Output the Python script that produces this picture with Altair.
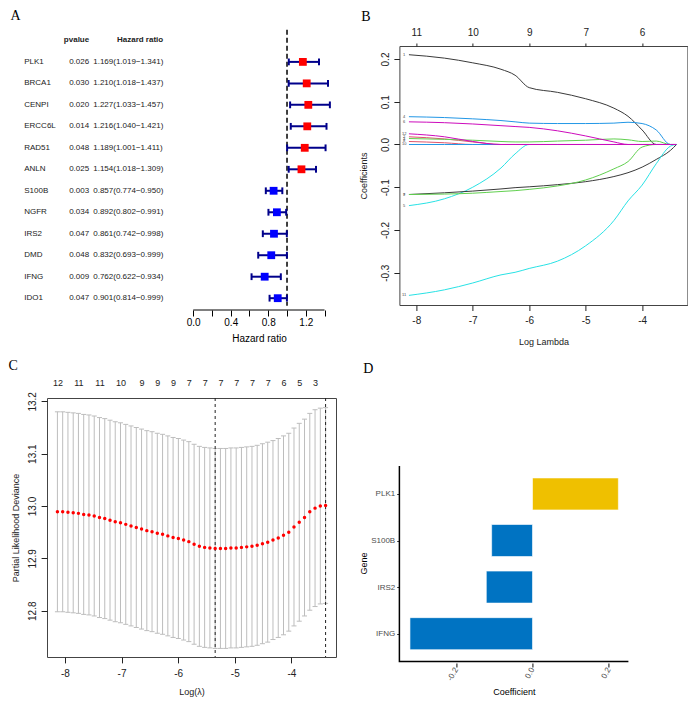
import altair as alt
import pandas as pd

SANS = "Liberation Sans"
SERIF = "Liberation Serif"
INK = "#222222"

# ---------------- Panel A: univariate Cox forest plot ----------------
a_genes = ["PLK1", "BRCA1", "CENPI", "ERCC6L", "RAD51", "ANLN",
           "S100B", "NGFR", "IRS2", "DMD", "IFNG", "IDO1"]
a_pvalues = ["0.026", "0.030", "0.020", "0.014", "0.048", "0.025",
             "0.003", "0.034", "0.047", "0.048", "0.009", "0.047"]
a_hr = [1.169, 1.210, 1.227, 1.216, 1.189, 1.154, 0.857, 0.892, 0.861, 0.832, 0.762, 0.901]
a_low = [1.019, 1.018, 1.033, 1.040, 1.001, 1.018, 0.774, 0.802, 0.742, 0.693, 0.622, 0.814]
a_high = [1.341, 1.437, 1.457, 1.421, 1.411, 1.309, 0.950, 0.991, 0.998, 0.999, 0.934, 0.999]
a_ticks = [0.0, 0.2, 0.4, 0.6, 0.8, 1.0, 1.2, 1.4]
a_tick_labels = ["0.0", "0.4", "0.8", "1.2"]

# ---------------- Panel B: LASSO coefficient paths ----------------
b_loglam = [-8.13, -7.5, -7.0, -6.5, -6.25, -6.0, -5.5, -5.0, -4.5, -4.25, -4.0, -3.75, -3.5, -3.39]
b_coef_1 = [0.210, 0.202, 0.191, 0.176, 0.162, 0.133, 0.122, 0.107, 0.085, 0.066, 0.034, 0.0, 0.0, 0.0]
b_coef_2 = [0.018, 0.013, 0.006, 0.0, 0.0, 0.0, 0.0, 0.0, 0.0, 0.0, 0.0, 0.0, 0.0, 0.0]
b_coef_3 = [0.014, 0.012, 0.010, 0.007, 0.006, 0.006, 0.008, 0.010, 0.013, 0.011, 0.007, 0.008, 0.0, 0.0]
b_coef_4 = [0.065, 0.063, 0.060, 0.056, 0.053, 0.050, 0.049, 0.049, 0.050, 0.052, 0.049, 0.034, 0.0, 0.0]
b_coef_5 = [-0.143, -0.127, -0.100, -0.055, -0.022, 0.0, 0.0, 0.0, 0.0, 0.0, 0.0, 0.0, 0.0, 0.0]
b_coef_6 = [0.053, 0.051, 0.048, 0.044, 0.042, 0.040, 0.032, 0.020, 0.006, 0.0, 0.0, 0.0, 0.0, 0.0]
b_coef_7 = [-0.117, -0.113, -0.109, -0.104, -0.101, -0.099, -0.094, -0.087, -0.075, -0.066, -0.053, -0.035, -0.014, 0.0]
b_coef_8 = [0.007, 0.004, 0.0, 0.0, 0.0, 0.0, 0.0, 0.0, 0.0, 0.0, 0.0, 0.0, 0.0, 0.0]
b_coef_9 = [-0.117, -0.116, -0.114, -0.110, -0.108, -0.105, -0.097, -0.083, -0.057, -0.040, -0.006, 0.0, 0.0, 0.0]
b_coef_10 = [0.0, 0.0, 0.0, 0.0, 0.0, 0.0, 0.0, 0.0, 0.0, 0.0, 0.0, 0.0, 0.0, 0.0]
b_coef_11 = [-0.353, -0.340, -0.324, -0.305, -0.299, -0.290, -0.273, -0.237, -0.178, -0.132, -0.095, -0.045, -0.004, 0.0]
b_coef_12 = [0.025, 0.018, 0.007, 0.0, 0.0, 0.0, 0.0, 0.0, 0.0, 0.0, 0.0, 0.0, 0.0, 0.0]
b_vars = ["1", "2", "3", "4", "5", "6", "7", "8", "9", "10", "11", "12"]
b_colors = ["#3A3A3A", "#DF536B", "#61D04F", "#2297E6", "#28E2E5", "#CD0BBC",
            "#3A3A3A", "#DF536B", "#61D04F", "#2297E6", "#28E2E5", "#CD0BBC"]
b_top_at = [-8, -7, -6, -5, -4]
b_top_df = ["11", "10", "9", "7", "6"]
b_x_ticks = [-8, -7, -6, -5, -4]
b_y_ticks = [-0.3, -0.2, -0.1, 0.0, 0.1, 0.2]

# ---------------- Panel C: cross-validation curve ----------------
c_loglam = [-8.132, -8.039, -7.946, -7.853, -7.761, -7.668, -7.575, -7.482, -7.389, -7.296,
            -7.203, -7.111, -7.018, -6.925, -6.832, -6.739, -6.646, -6.553, -6.461, -6.368,
            -6.275, -6.182, -6.089, -5.996, -5.903, -5.811, -5.718, -5.625, -5.532, -5.439,
            -5.346, -5.253, -5.161, -5.068, -4.975, -4.882, -4.789, -4.696, -4.604, -4.511,
            -4.418, -4.325, -4.232, -4.139, -4.046, -3.954, -3.861, -3.768, -3.675, -3.582,
            -3.489, -3.396]
c_cvm = [12.989, 12.989, 12.988, 12.987, 12.986, 12.984, 12.983, 12.981, 12.978, 12.976,
         12.973, 12.970, 12.968, 12.965, 12.962, 12.959, 12.956, 12.953, 12.951, 12.948,
         12.946, 12.943, 12.940, 12.938, 12.935, 12.932, 12.927, 12.923, 12.921, 12.920,
         12.919, 12.919, 12.919, 12.920, 12.920, 12.921, 12.922, 12.923, 12.925, 12.928,
         12.931, 12.935, 12.939, 12.944, 12.950, 12.960, 12.969, 12.978, 12.989, 12.996,
         13.000, 13.001]
c_cvsd = [0.191, 0.191, 0.191, 0.191, 0.191, 0.191, 0.191, 0.191, 0.191, 0.191,
          0.191, 0.191, 0.191, 0.191, 0.191, 0.191, 0.191, 0.191, 0.191, 0.191,
          0.191, 0.191, 0.191, 0.191, 0.191, 0.191, 0.191, 0.191, 0.191, 0.191,
          0.191, 0.191, 0.191, 0.191, 0.191, 0.191, 0.191, 0.191, 0.191, 0.191,
          0.191, 0.190, 0.190, 0.190, 0.189, 0.189, 0.189, 0.188, 0.188, 0.188,
          0.187, 0.187]
c_top_at = [-8.132, -7.761, -7.389, -7.018, -6.646, -6.368, -6.089, -5.811,
            -5.532, -5.253, -4.975, -4.696, -4.418, -4.139, -3.861, -3.582]
c_top_nz = ["12", "11", "11", "10", "9", "9", "9", "7", "7", "7", "7", "7", "7", "6", "5", "3"]
c_lambda_min = -5.346
c_lambda_1se = -3.396
c_x_ticks = [-8, -7, -6, -5, -4]
c_y_ticks = [12.8, 12.9, 13.0, 13.1, 13.2]

# ---------------- Panel D: final model coefficients ----------------
d_genes = ["PLK1", "S100B", "IRS2", "IFNG"]          # top to bottom
d_coef = [0.225, -0.107, -0.121, -0.321]
d_ticks = [-0.2, 0.0, 0.2]

MINUS_FIX = "replace(format(datum.value, '.1f'), '\u2212', '-')"


def letter(t, dx, dy):
    return alt.TitleParams(text=t, anchor="start", frame="group", font=SERIF, fontSize=14,
                           fontWeight="normal", color="black", baseline="alphabetic",
                           offset=0, dx=dx, dy=dy)


# ======================= A =======================
a_df = pd.DataFrame({"row": list(range(1, len(a_genes) + 1)), "gene": a_genes, "p": a_pvalues,
                     "hr": a_hr, "low": a_low, "high": a_high})
a_df["ci"] = [f"{h:.3f}({l:.3f}\u2212{u:.3f})" for h, l, u in zip(a_hr, a_low, a_high)]
a_df["dir"] = ["up" if h > 1 else "down" for h in a_hr]
a_head = pd.DataFrame({"row": [0], "p": ["pvalue"], "ci": ["Hazard ratio"]})

a_xs = alt.Scale(domain=[-1.559, 1.405], nice=False, zero=False)
a_ys = alt.Scale(domain=[0.26, 12.55], nice=False, zero=False, reverse=True)
a_y = alt.Y("row:Q", scale=a_ys, axis=None)
NAVY = "#00008B"

a_axis = alt.Axis(
    values=a_ticks,
    labelExpr=f"indexof({a_tick_labels}, format(datum.value, '.1f')) >= 0 ? format(datum.value, '.1f') : ''",
    domain=False, grid=False, tickSize=6, tickColor="black", tickWidth=1,
    labelFontSize=10, labelFont=SANS, labelColor="black", labelPadding=1,
    labelFlush=False, labelOverlap=False,
    title="Hazard ratio", titleFontSize=10, titleFont=SANS, titleFontWeight="normal",
    titleColor="black", titleX=212, titleY=28, titleAlign="center", titleBaseline="middle")

a_base = alt.Chart(a_df)
a_dash = alt.Chart(pd.DataFrame({"ref": [1.0]})).mark_rule(
    strokeDash=[5, 3], strokeWidth=1.5, color="black").encode(
    x=alt.X("ref:Q", axis=None), y=alt.YDatum(-0.5, axis=None), y2=alt.Y2Datum(12.35))
a_line = alt.Chart(pd.DataFrame({"t0": [a_ticks[0]], "t1": [a_ticks[-1]]})).mark_rule(
    color="black", strokeWidth=1).encode(
    x=alt.X("t0:Q", axis=None), x2="t1:Q", y=alt.YDatum(12.55, axis=None))
a_wh = a_base.mark_rule(color=NAVY, strokeWidth=2).encode(
    x=alt.X("low:Q", axis=None), x2="high:Q", y=a_y)
a_cap_lo = a_base.mark_point(shape="M0,-1L0,1", size=46, strokeWidth=2, color=NAVY,
                             filled=False, opacity=1).encode(x=alt.X("low:Q", axis=None), y=a_y)
a_cap_hi = a_base.mark_point(shape="M0,-1L0,1", size=46, strokeWidth=2, color=NAVY,
                             filled=False, opacity=1).encode(x=alt.X("high:Q", axis=None), y=a_y)
a_sq = a_base.mark_square(size=61, opacity=1).encode(
    x=alt.X("hr:Q", scale=a_xs, axis=a_axis), y=a_y,
    color=alt.Color("dir:N", scale=alt.Scale(domain=["up", "down"], range=["#FF0000", "#0000FF"]),
                    legend=None))
a_t_gene = a_base.mark_text(align="left", baseline="middle", fontSize=8, color=INK).encode(
    x=alt.XDatum(-1.802, axis=None), y=a_y, text="gene:N")
a_t_p = a_base.mark_text(align="right", baseline="middle", fontSize=8, color=INK).encode(
    x=alt.XDatum(-1.109, axis=None), y=a_y, text="p:N")
a_t_ci = a_base.mark_text(align="left", baseline="middle", fontSize=8, color=INK).encode(
    x=alt.XDatum(-1.066, axis=None), y=a_y, text="ci:N")
a_h_p = alt.Chart(a_head).mark_text(align="right", baseline="middle", fontSize=8,
                                    fontWeight="bold", color=INK).encode(
    x=alt.XDatum(-1.109, axis=None), y=a_y, text="p:N")
a_h_ci = alt.Chart(a_head).mark_text(align="left", baseline="middle", fontSize=8,
                                     fontWeight="bold", color=INK).encode(
    x=alt.XDatum(-0.813, axis=None), y=a_y, text="ci:N")

panel_a = alt.layer(a_dash, a_line, a_wh, a_cap_lo, a_cap_hi, a_sq,
                    a_t_gene, a_t_p, a_t_ci, a_h_p, a_h_ci).resolve_axis(
    x="independent", y="independent").properties(
    width=278, height=264, title=letter("A", -36.4, 5.1))

# ======================= B =======================
b_all = [b_coef_1, b_coef_2, b_coef_3, b_coef_4, b_coef_5, b_coef_6,
         b_coef_7, b_coef_8, b_coef_9, b_coef_10, b_coef_11, b_coef_12]
b_rows = []
for v, vals in zip(b_vars, b_all):
    for x, y in zip(b_loglam, vals):
        b_rows.append({"var": v, "loglam": x, "coef": y})
b_df = pd.DataFrame(b_rows)
b_lab = pd.DataFrame({"var": b_vars, "coef": [vals[0] for vals in b_all]})

b_xs = alt.Scale(domain=[-8.299, -3.198], nice=False, zero=False)
b_ys = alt.Scale(domain=[-0.3755, 0.2304], nice=False, zero=False)

b_xaxis = alt.Axis(values=b_x_ticks, labelExpr="replace(format(datum.value, 'd'), '\u2212', '-')",
                   domain=False, grid=False, tickSize=5.5, tickColor=INK, labelFontSize=10,
                   labelColor=INK, labelPadding=5.4, labelFlush=False,
                   title="Log Lambda", titleFontSize=9, titleFontWeight="normal", titleColor=INK,
                   titleX=144, titleY=36, titleBaseline="middle", titleAlign="center")
b_yaxis = alt.Axis(values=b_y_ticks, labelExpr=MINUS_FIX, labelAngle=-90, labelAlign="center",
                   labelBaseline="bottom", domain=False, grid=False, tickSize=5.5, tickColor=INK,
                   labelFontSize=10, labelColor=INK, labelPadding=3.5, labelFlush=False,
                   title="Coefficients", titleFontSize=9, titleFontWeight="normal", titleColor=INK,
                   titleX=-36, titleY=129.5, titleBaseline="middle", titleAlign="center")
b_topaxis = alt.Axis(orient="top", values=b_top_at,
                     labelExpr=f"{b_top_df}[indexof({b_top_at}, datum.value)]",
                     domain=False, grid=False, tickSize=3, tickColor=INK, labelFontSize=10,
                     labelColor=INK, labelPadding=6, labelFlush=False, labelOverlap=False, title=None)

b_lines = alt.Chart(b_df).mark_line(strokeWidth=1, interpolate="monotone").encode(
    x=alt.X("loglam:Q", scale=b_xs, axis=b_xaxis),
    y=alt.Y("coef:Q", scale=b_ys, axis=b_yaxis),
    color=alt.Color("var:N", scale=alt.Scale(domain=b_vars, range=b_colors), legend=None))
b_labels = alt.Chart(b_lab).mark_text(fontSize=4, color="#444444", baseline="middle").encode(
    x=alt.XDatum(-8.215, axis=None), y=alt.Y("coef:Q", axis=None), text="var:N")
b_top = alt.Chart(pd.DataFrame({"at": b_top_at})).mark_point(opacity=0).encode(
    x=alt.X("at:Q", axis=b_topaxis))

panel_b = alt.layer(b_lines, b_labels, b_top).resolve_axis(
    x="independent", y="independent").properties(
    width=288, height=259, view=alt.ViewBackground(stroke="#444444", strokeWidth=1),
    title=letter("B", -38.1, 7.6))

# ======================= C =======================
c_df = pd.DataFrame({"loglam": c_loglam, "cvm": c_cvm, "cvsd": c_cvsd})
c_df["lo"] = c_df["cvm"] - c_df["cvsd"]
c_df["hi"] = c_df["cvm"] + c_df["cvsd"]
c_xs = alt.Scale(domain=[-8.316, -3.212], nice=False, zero=False)
c_ys = alt.Scale(domain=[12.7116, 13.2064], nice=False, zero=False)
GREYBAR = "#BDBDBD"

c_xaxis = alt.Axis(values=c_x_ticks, labelExpr="replace(format(datum.value, 'd'), '\u2212', '-')",
                   domain=False, grid=False, tickSize=5.9, tickColor=INK, labelFontSize=10,
                   labelColor=INK, labelPadding=5.4, labelFlush=False,
                   title="Log(\u03bb)", titleFontSize=9, titleFontWeight="normal", titleColor=INK,
                   titleX=144.5, titleY=34, titleBaseline="middle", titleAlign="center")
c_yaxis = alt.Axis(values=c_y_ticks, format=".1f", labelAngle=-90, labelAlign="center",
                   labelBaseline="bottom", domain=False, grid=False, tickSize=5.9, tickColor=INK,
                   labelFontSize=10, labelColor=INK, labelPadding=3.2, labelFlush=False,
                   title="Partial Likelihood Deviance", titleFontSize=9, titleFontWeight="normal",
                   titleColor=INK, titleX=-31.4, titleY=129.5, titleBaseline="middle",
                   titleAlign="center")
c_topaxis = alt.Axis(orient="top", values=c_top_at,
                     labelExpr=f"{c_top_nz}[indexof({c_top_at}, datum.value)]",
                     domain=False, grid=False, ticks=False, labelFontSize=9, labelColor=INK,
                     labelPadding=10.5, labelFlush=False, labelOverlap=False, title=None)

c_base = alt.Chart(c_df)
c_bars = c_base.mark_rule(color=GREYBAR, strokeWidth=1).encode(
    x=alt.X("loglam:Q", scale=c_xs, axis=c_xaxis),
    y=alt.Y("lo:Q", scale=c_ys, axis=c_yaxis), y2="hi:Q")
c_cap_hi = c_base.mark_point(shape="M-1,0L1,0", size=25, color=GREYBAR, strokeWidth=1,
                             filled=False, opacity=1).encode(
    x=alt.X("loglam:Q", axis=None), y=alt.Y("hi:Q", axis=None))
c_cap_lo = c_base.mark_point(shape="M-1,0L1,0", size=25, color=GREYBAR, strokeWidth=1,
                             filled=False, opacity=1).encode(
    x=alt.X("loglam:Q", axis=None), y=alt.Y("lo:Q", axis=None))
c_dots = c_base.mark_circle(size=12, color="#FF0000", opacity=1).encode(
    x=alt.X("loglam:Q", axis=None), y=alt.Y("cvm:Q", axis=None))
c_vlines = alt.Chart(pd.DataFrame({"lam": [c_lambda_min, c_lambda_1se]})).mark_rule(
    color=INK, strokeDash=[3, 3], strokeWidth=1).encode(x=alt.X("lam:Q", axis=None))
c_top = alt.Chart(pd.DataFrame({"at": c_top_at})).mark_point(opacity=0).encode(
    x=alt.X("at:Q", axis=c_topaxis))

panel_c = alt.layer(c_bars, c_cap_hi, c_cap_lo, c_vlines, c_dots, c_top).resolve_axis(
    x="independent", y="independent").properties(
    width=289, height=259, view=alt.ViewBackground(stroke="#444444", strokeWidth=1),
    title=letter("C", -38.4, 5.9))

# ======================= D =======================
n_d = len(d_genes)
d_df = pd.DataFrame({"gene": d_genes, "coef": d_coef,
                     "pos": [n_d - i for i in range(n_d)]})
d_df["dir"] = ["pos" if c > 0 else "neg" for c in d_coef]
d_xdom = [-0.3487, 0.2513]
d_ydom = [0.37, 6.06]
d_lo = 0.4                      # ggplot lower limit of the discrete axis (1 - 0.6)
d_xs = alt.Scale(domain=d_xdom, nice=False, zero=False, padding=0)
d_ys = alt.Scale(domain=d_ydom, nice=False, zero=False, padding=0)
d_label_expr = f"{d_genes}[{n_d} - datum.value]"

d_bars = alt.Chart(d_df).mark_bar(orient="horizontal", size=32, stroke="white",
                                  strokeWidth=0.6).encode(
    y=alt.Y("pos:Q", scale=d_ys,
            axis=alt.Axis(values=list(range(1, n_d + 1)), labelExpr=d_label_expr, domain=False,
                          tickColor="#333333", tickSize=2.7, labelColor="#4D4D4D",
                          labelFontSize=8, labelPadding=2, labelFlush=False, grid=False,
                          title="Gene", titleFontSize=9, titleFontWeight="normal",
                          titleColor="black", titleX=-36, titleY=165, titleBaseline="middle",
                          titleAlign="center")),
    x=alt.X("coef:Q", scale=d_xs,
            axis=alt.Axis(values=d_ticks, labelExpr=MINUS_FIX, labelAngle=-60, labelAlign="right",
                          labelBaseline="middle", domain=False,
                          tickColor="#333333", tickSize=4, tickWidth=1.2, labelColor="#4D4D4D",
                          labelFontSize=8, labelPadding=1, labelFlush=False, grid=False,
                          title="Coefficient", titleFontSize=9, titleFontWeight="normal",
                          titleColor="black", titleX=114.5, titleY=28.4,
                          titleBaseline="middle", titleAlign="center")),
    color=alt.Color("dir:N", scale=alt.Scale(domain=["pos", "neg"], range=["#EFC000", "#0073C2"]),
                    legend=None),
)
# ggplot-style L-shaped axis lines (left + bottom panel edges)
d_frame = pd.DataFrame({"step": [0, 1, 2],
                        "fx": [d_xdom[0], d_xdom[0], d_xdom[1]],
                        "fy": [n_d + 0.6, d_lo, d_lo]})
d_axes = alt.Chart(d_frame).mark_line(color="black", strokeWidth=1.5).encode(
    x=alt.X("fx:Q", axis=None), y=alt.Y("fy:Q", axis=None), order="step:Q")

panel_d = alt.layer(d_bars, d_axes).resolve_axis(
    x="independent", y="independent").properties(
    width=229, height=265, title=letter("D", -36.2, -10.7))

chart = alt.concat(panel_a, panel_b, panel_c, panel_d, columns=2,
                   spacing={"row": 88, "column": 63.4}, bounds="flush").resolve_scale(
    color="independent").properties(
    padding={"left": 0, "top": 1, "right": 0, "bottom": 0}
).configure(font=SANS).configure_view(stroke=None).configure_axis(
    grid=False, labelFont=SANS, titleFont=SANS)

chart.save("out.html", embed_options={"renderer": "svg", "actions": False})
